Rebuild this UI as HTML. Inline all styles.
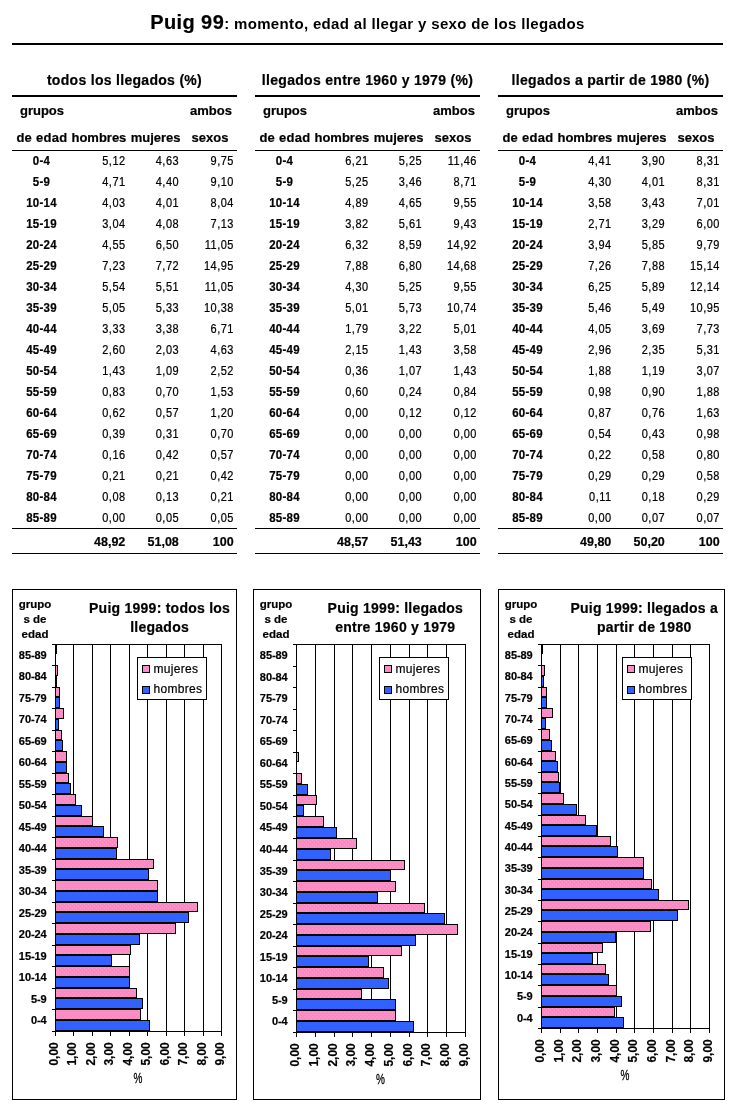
<!DOCTYPE html>
<html><head><meta charset="utf-8"><title>Puig 99</title>
<style>
html,body{margin:0;padding:0;background:#fff;}
body{width:734px;height:1117px;overflow:hidden;}
svg{display:block;will-change:transform;font-family:"Liberation Sans", sans-serif;}
text{stroke:#000;stroke-width:0.2px;}
</style></head><body>
<svg width="734" height="1117" viewBox="0 0 734 1117">
<defs>
<pattern id="pk" width="4" height="4" patternUnits="userSpaceOnUse">
<rect width="4" height="4" fill="#FF88C4"/>
<rect x="0" y="0" width="1" height="1" fill="#FF9CCE"/>
<rect x="2" y="2" width="1" height="1" fill="#FF9CCE"/>
</pattern>
</defs>
<rect width="734" height="1117" fill="#fff"/>
<text x="367.5" y="28.7" text-anchor="middle" font-weight="bold"><tspan font-size="20" letter-spacing="0.4">Puig 99</tspan><tspan font-size="15" letter-spacing="0.34" style="stroke-width:0">: momento, edad al llegar y sexo de los llegados</tspan></text>
<rect x="12.00" y="43.00" width="711.00" height="2.00" fill="#000"/>
<text x="124.50" y="84.90" font-size="14" font-weight="bold" text-anchor="middle" letter-spacing="0.3">todos los llegados (%)</text>
<rect x="12.00" y="95.00" width="225.00" height="2.00" fill="#000"/>
<text x="42.00" y="114.50" font-size="13" font-weight="bold" text-anchor="middle">grupos</text>
<text x="211.00" y="114.50" font-size="13" font-weight="bold" text-anchor="middle">ambos</text>
<text x="42.00" y="141.70" font-size="13" font-weight="bold" text-anchor="middle" letter-spacing="0.3">de edad</text>
<text x="98.90" y="141.70" font-size="13" font-weight="bold" text-anchor="middle">hombres</text>
<text x="155.60" y="141.70" font-size="13" font-weight="bold" text-anchor="middle">mujeres</text>
<text x="210.00" y="141.70" font-size="13" font-weight="bold" text-anchor="middle">sexos</text>
<rect x="12.00" y="150.00" width="225.00" height="1.00" fill="#000"/>
<text transform="translate(41.50,165.00) scale(1,1.07)" font-size="11.5" font-weight="bold" text-anchor="middle" letter-spacing="0.25">0-4</text>
<text transform="translate(125.60,165.00) scale(1,1.12)" font-size="11" text-anchor="end" letter-spacing="0.5">5,12</text>
<text transform="translate(179.10,165.00) scale(1,1.12)" font-size="11" text-anchor="end" letter-spacing="0.5">4,63</text>
<text transform="translate(233.90,165.00) scale(1,1.12)" font-size="11" text-anchor="end" letter-spacing="0.5">9,75</text>
<text transform="translate(41.50,186.00) scale(1,1.07)" font-size="11.5" font-weight="bold" text-anchor="middle" letter-spacing="0.25">5-9</text>
<text transform="translate(125.60,186.00) scale(1,1.12)" font-size="11" text-anchor="end" letter-spacing="0.5">4,71</text>
<text transform="translate(179.10,186.00) scale(1,1.12)" font-size="11" text-anchor="end" letter-spacing="0.5">4,40</text>
<text transform="translate(233.90,186.00) scale(1,1.12)" font-size="11" text-anchor="end" letter-spacing="0.5">9,10</text>
<text transform="translate(41.50,207.00) scale(1,1.07)" font-size="11.5" font-weight="bold" text-anchor="middle" letter-spacing="0.25">10-14</text>
<text transform="translate(125.60,207.00) scale(1,1.12)" font-size="11" text-anchor="end" letter-spacing="0.5">4,03</text>
<text transform="translate(179.10,207.00) scale(1,1.12)" font-size="11" text-anchor="end" letter-spacing="0.5">4,01</text>
<text transform="translate(233.90,207.00) scale(1,1.12)" font-size="11" text-anchor="end" letter-spacing="0.5">8,04</text>
<text transform="translate(41.50,228.00) scale(1,1.07)" font-size="11.5" font-weight="bold" text-anchor="middle" letter-spacing="0.25">15-19</text>
<text transform="translate(125.60,228.00) scale(1,1.12)" font-size="11" text-anchor="end" letter-spacing="0.5">3,04</text>
<text transform="translate(179.10,228.00) scale(1,1.12)" font-size="11" text-anchor="end" letter-spacing="0.5">4,08</text>
<text transform="translate(233.90,228.00) scale(1,1.12)" font-size="11" text-anchor="end" letter-spacing="0.5">7,13</text>
<text transform="translate(41.50,249.00) scale(1,1.07)" font-size="11.5" font-weight="bold" text-anchor="middle" letter-spacing="0.25">20-24</text>
<text transform="translate(125.60,249.00) scale(1,1.12)" font-size="11" text-anchor="end" letter-spacing="0.5">4,55</text>
<text transform="translate(179.10,249.00) scale(1,1.12)" font-size="11" text-anchor="end" letter-spacing="0.5">6,50</text>
<text transform="translate(233.90,249.00) scale(1,1.12)" font-size="11" text-anchor="end" letter-spacing="0.5">11,05</text>
<text transform="translate(41.50,270.00) scale(1,1.07)" font-size="11.5" font-weight="bold" text-anchor="middle" letter-spacing="0.25">25-29</text>
<text transform="translate(125.60,270.00) scale(1,1.12)" font-size="11" text-anchor="end" letter-spacing="0.5">7,23</text>
<text transform="translate(179.10,270.00) scale(1,1.12)" font-size="11" text-anchor="end" letter-spacing="0.5">7,72</text>
<text transform="translate(233.90,270.00) scale(1,1.12)" font-size="11" text-anchor="end" letter-spacing="0.5">14,95</text>
<text transform="translate(41.50,291.00) scale(1,1.07)" font-size="11.5" font-weight="bold" text-anchor="middle" letter-spacing="0.25">30-34</text>
<text transform="translate(125.60,291.00) scale(1,1.12)" font-size="11" text-anchor="end" letter-spacing="0.5">5,54</text>
<text transform="translate(179.10,291.00) scale(1,1.12)" font-size="11" text-anchor="end" letter-spacing="0.5">5,51</text>
<text transform="translate(233.90,291.00) scale(1,1.12)" font-size="11" text-anchor="end" letter-spacing="0.5">11,05</text>
<text transform="translate(41.50,312.00) scale(1,1.07)" font-size="11.5" font-weight="bold" text-anchor="middle" letter-spacing="0.25">35-39</text>
<text transform="translate(125.60,312.00) scale(1,1.12)" font-size="11" text-anchor="end" letter-spacing="0.5">5,05</text>
<text transform="translate(179.10,312.00) scale(1,1.12)" font-size="11" text-anchor="end" letter-spacing="0.5">5,33</text>
<text transform="translate(233.90,312.00) scale(1,1.12)" font-size="11" text-anchor="end" letter-spacing="0.5">10,38</text>
<text transform="translate(41.50,333.00) scale(1,1.07)" font-size="11.5" font-weight="bold" text-anchor="middle" letter-spacing="0.25">40-44</text>
<text transform="translate(125.60,333.00) scale(1,1.12)" font-size="11" text-anchor="end" letter-spacing="0.5">3,33</text>
<text transform="translate(179.10,333.00) scale(1,1.12)" font-size="11" text-anchor="end" letter-spacing="0.5">3,38</text>
<text transform="translate(233.90,333.00) scale(1,1.12)" font-size="11" text-anchor="end" letter-spacing="0.5">6,71</text>
<text transform="translate(41.50,354.00) scale(1,1.07)" font-size="11.5" font-weight="bold" text-anchor="middle" letter-spacing="0.25">45-49</text>
<text transform="translate(125.60,354.00) scale(1,1.12)" font-size="11" text-anchor="end" letter-spacing="0.5">2,60</text>
<text transform="translate(179.10,354.00) scale(1,1.12)" font-size="11" text-anchor="end" letter-spacing="0.5">2,03</text>
<text transform="translate(233.90,354.00) scale(1,1.12)" font-size="11" text-anchor="end" letter-spacing="0.5">4,63</text>
<text transform="translate(41.50,375.00) scale(1,1.07)" font-size="11.5" font-weight="bold" text-anchor="middle" letter-spacing="0.25">50-54</text>
<text transform="translate(125.60,375.00) scale(1,1.12)" font-size="11" text-anchor="end" letter-spacing="0.5">1,43</text>
<text transform="translate(179.10,375.00) scale(1,1.12)" font-size="11" text-anchor="end" letter-spacing="0.5">1,09</text>
<text transform="translate(233.90,375.00) scale(1,1.12)" font-size="11" text-anchor="end" letter-spacing="0.5">2,52</text>
<text transform="translate(41.50,396.00) scale(1,1.07)" font-size="11.5" font-weight="bold" text-anchor="middle" letter-spacing="0.25">55-59</text>
<text transform="translate(125.60,396.00) scale(1,1.12)" font-size="11" text-anchor="end" letter-spacing="0.5">0,83</text>
<text transform="translate(179.10,396.00) scale(1,1.12)" font-size="11" text-anchor="end" letter-spacing="0.5">0,70</text>
<text transform="translate(233.90,396.00) scale(1,1.12)" font-size="11" text-anchor="end" letter-spacing="0.5">1,53</text>
<text transform="translate(41.50,417.00) scale(1,1.07)" font-size="11.5" font-weight="bold" text-anchor="middle" letter-spacing="0.25">60-64</text>
<text transform="translate(125.60,417.00) scale(1,1.12)" font-size="11" text-anchor="end" letter-spacing="0.5">0,62</text>
<text transform="translate(179.10,417.00) scale(1,1.12)" font-size="11" text-anchor="end" letter-spacing="0.5">0,57</text>
<text transform="translate(233.90,417.00) scale(1,1.12)" font-size="11" text-anchor="end" letter-spacing="0.5">1,20</text>
<text transform="translate(41.50,438.00) scale(1,1.07)" font-size="11.5" font-weight="bold" text-anchor="middle" letter-spacing="0.25">65-69</text>
<text transform="translate(125.60,438.00) scale(1,1.12)" font-size="11" text-anchor="end" letter-spacing="0.5">0,39</text>
<text transform="translate(179.10,438.00) scale(1,1.12)" font-size="11" text-anchor="end" letter-spacing="0.5">0,31</text>
<text transform="translate(233.90,438.00) scale(1,1.12)" font-size="11" text-anchor="end" letter-spacing="0.5">0,70</text>
<text transform="translate(41.50,459.00) scale(1,1.07)" font-size="11.5" font-weight="bold" text-anchor="middle" letter-spacing="0.25">70-74</text>
<text transform="translate(125.60,459.00) scale(1,1.12)" font-size="11" text-anchor="end" letter-spacing="0.5">0,16</text>
<text transform="translate(179.10,459.00) scale(1,1.12)" font-size="11" text-anchor="end" letter-spacing="0.5">0,42</text>
<text transform="translate(233.90,459.00) scale(1,1.12)" font-size="11" text-anchor="end" letter-spacing="0.5">0,57</text>
<text transform="translate(41.50,480.00) scale(1,1.07)" font-size="11.5" font-weight="bold" text-anchor="middle" letter-spacing="0.25">75-79</text>
<text transform="translate(125.60,480.00) scale(1,1.12)" font-size="11" text-anchor="end" letter-spacing="0.5">0,21</text>
<text transform="translate(179.10,480.00) scale(1,1.12)" font-size="11" text-anchor="end" letter-spacing="0.5">0,21</text>
<text transform="translate(233.90,480.00) scale(1,1.12)" font-size="11" text-anchor="end" letter-spacing="0.5">0,42</text>
<text transform="translate(41.50,501.00) scale(1,1.07)" font-size="11.5" font-weight="bold" text-anchor="middle" letter-spacing="0.25">80-84</text>
<text transform="translate(125.60,501.00) scale(1,1.12)" font-size="11" text-anchor="end" letter-spacing="0.5">0,08</text>
<text transform="translate(179.10,501.00) scale(1,1.12)" font-size="11" text-anchor="end" letter-spacing="0.5">0,13</text>
<text transform="translate(233.90,501.00) scale(1,1.12)" font-size="11" text-anchor="end" letter-spacing="0.5">0,21</text>
<text transform="translate(41.50,522.00) scale(1,1.07)" font-size="11.5" font-weight="bold" text-anchor="middle" letter-spacing="0.25">85-89</text>
<text transform="translate(125.60,522.00) scale(1,1.12)" font-size="11" text-anchor="end" letter-spacing="0.5">0,00</text>
<text transform="translate(179.10,522.00) scale(1,1.12)" font-size="11" text-anchor="end" letter-spacing="0.5">0,05</text>
<text transform="translate(233.90,522.00) scale(1,1.12)" font-size="11" text-anchor="end" letter-spacing="0.5">0,05</text>
<rect x="12.00" y="528.00" width="225.00" height="1.00" fill="#000"/>
<text x="125.30" y="545.70" font-size="12.5" font-weight="bold" text-anchor="end">48,92</text>
<text x="178.80" y="545.70" font-size="12.5" font-weight="bold" text-anchor="end">51,08</text>
<text x="233.60" y="545.70" font-size="12.5" font-weight="bold" text-anchor="end">100</text>
<rect x="12.00" y="553.00" width="225.00" height="1.00" fill="#000"/>
<text x="367.50" y="84.90" font-size="14" font-weight="bold" text-anchor="middle" letter-spacing="0.3">llegados entre 1960 y 1979 (%)</text>
<rect x="255.00" y="95.00" width="225.00" height="2.00" fill="#000"/>
<text x="285.00" y="114.50" font-size="13" font-weight="bold" text-anchor="middle">grupos</text>
<text x="454.00" y="114.50" font-size="13" font-weight="bold" text-anchor="middle">ambos</text>
<text x="285.00" y="141.70" font-size="13" font-weight="bold" text-anchor="middle" letter-spacing="0.3">de edad</text>
<text x="341.90" y="141.70" font-size="13" font-weight="bold" text-anchor="middle">hombres</text>
<text x="398.60" y="141.70" font-size="13" font-weight="bold" text-anchor="middle">mujeres</text>
<text x="453.00" y="141.70" font-size="13" font-weight="bold" text-anchor="middle">sexos</text>
<rect x="255.00" y="150.00" width="225.00" height="1.00" fill="#000"/>
<text transform="translate(284.50,165.00) scale(1,1.07)" font-size="11.5" font-weight="bold" text-anchor="middle" letter-spacing="0.25">0-4</text>
<text transform="translate(368.60,165.00) scale(1,1.12)" font-size="11" text-anchor="end" letter-spacing="0.5">6,21</text>
<text transform="translate(422.10,165.00) scale(1,1.12)" font-size="11" text-anchor="end" letter-spacing="0.5">5,25</text>
<text transform="translate(476.90,165.00) scale(1,1.12)" font-size="11" text-anchor="end" letter-spacing="0.5">11,46</text>
<text transform="translate(284.50,186.00) scale(1,1.07)" font-size="11.5" font-weight="bold" text-anchor="middle" letter-spacing="0.25">5-9</text>
<text transform="translate(368.60,186.00) scale(1,1.12)" font-size="11" text-anchor="end" letter-spacing="0.5">5,25</text>
<text transform="translate(422.10,186.00) scale(1,1.12)" font-size="11" text-anchor="end" letter-spacing="0.5">3,46</text>
<text transform="translate(476.90,186.00) scale(1,1.12)" font-size="11" text-anchor="end" letter-spacing="0.5">8,71</text>
<text transform="translate(284.50,207.00) scale(1,1.07)" font-size="11.5" font-weight="bold" text-anchor="middle" letter-spacing="0.25">10-14</text>
<text transform="translate(368.60,207.00) scale(1,1.12)" font-size="11" text-anchor="end" letter-spacing="0.5">4,89</text>
<text transform="translate(422.10,207.00) scale(1,1.12)" font-size="11" text-anchor="end" letter-spacing="0.5">4,65</text>
<text transform="translate(476.90,207.00) scale(1,1.12)" font-size="11" text-anchor="end" letter-spacing="0.5">9,55</text>
<text transform="translate(284.50,228.00) scale(1,1.07)" font-size="11.5" font-weight="bold" text-anchor="middle" letter-spacing="0.25">15-19</text>
<text transform="translate(368.60,228.00) scale(1,1.12)" font-size="11" text-anchor="end" letter-spacing="0.5">3,82</text>
<text transform="translate(422.10,228.00) scale(1,1.12)" font-size="11" text-anchor="end" letter-spacing="0.5">5,61</text>
<text transform="translate(476.90,228.00) scale(1,1.12)" font-size="11" text-anchor="end" letter-spacing="0.5">9,43</text>
<text transform="translate(284.50,249.00) scale(1,1.07)" font-size="11.5" font-weight="bold" text-anchor="middle" letter-spacing="0.25">20-24</text>
<text transform="translate(368.60,249.00) scale(1,1.12)" font-size="11" text-anchor="end" letter-spacing="0.5">6,32</text>
<text transform="translate(422.10,249.00) scale(1,1.12)" font-size="11" text-anchor="end" letter-spacing="0.5">8,59</text>
<text transform="translate(476.90,249.00) scale(1,1.12)" font-size="11" text-anchor="end" letter-spacing="0.5">14,92</text>
<text transform="translate(284.50,270.00) scale(1,1.07)" font-size="11.5" font-weight="bold" text-anchor="middle" letter-spacing="0.25">25-29</text>
<text transform="translate(368.60,270.00) scale(1,1.12)" font-size="11" text-anchor="end" letter-spacing="0.5">7,88</text>
<text transform="translate(422.10,270.00) scale(1,1.12)" font-size="11" text-anchor="end" letter-spacing="0.5">6,80</text>
<text transform="translate(476.90,270.00) scale(1,1.12)" font-size="11" text-anchor="end" letter-spacing="0.5">14,68</text>
<text transform="translate(284.50,291.00) scale(1,1.07)" font-size="11.5" font-weight="bold" text-anchor="middle" letter-spacing="0.25">30-34</text>
<text transform="translate(368.60,291.00) scale(1,1.12)" font-size="11" text-anchor="end" letter-spacing="0.5">4,30</text>
<text transform="translate(422.10,291.00) scale(1,1.12)" font-size="11" text-anchor="end" letter-spacing="0.5">5,25</text>
<text transform="translate(476.90,291.00) scale(1,1.12)" font-size="11" text-anchor="end" letter-spacing="0.5">9,55</text>
<text transform="translate(284.50,312.00) scale(1,1.07)" font-size="11.5" font-weight="bold" text-anchor="middle" letter-spacing="0.25">35-39</text>
<text transform="translate(368.60,312.00) scale(1,1.12)" font-size="11" text-anchor="end" letter-spacing="0.5">5,01</text>
<text transform="translate(422.10,312.00) scale(1,1.12)" font-size="11" text-anchor="end" letter-spacing="0.5">5,73</text>
<text transform="translate(476.90,312.00) scale(1,1.12)" font-size="11" text-anchor="end" letter-spacing="0.5">10,74</text>
<text transform="translate(284.50,333.00) scale(1,1.07)" font-size="11.5" font-weight="bold" text-anchor="middle" letter-spacing="0.25">40-44</text>
<text transform="translate(368.60,333.00) scale(1,1.12)" font-size="11" text-anchor="end" letter-spacing="0.5">1,79</text>
<text transform="translate(422.10,333.00) scale(1,1.12)" font-size="11" text-anchor="end" letter-spacing="0.5">3,22</text>
<text transform="translate(476.90,333.00) scale(1,1.12)" font-size="11" text-anchor="end" letter-spacing="0.5">5,01</text>
<text transform="translate(284.50,354.00) scale(1,1.07)" font-size="11.5" font-weight="bold" text-anchor="middle" letter-spacing="0.25">45-49</text>
<text transform="translate(368.60,354.00) scale(1,1.12)" font-size="11" text-anchor="end" letter-spacing="0.5">2,15</text>
<text transform="translate(422.10,354.00) scale(1,1.12)" font-size="11" text-anchor="end" letter-spacing="0.5">1,43</text>
<text transform="translate(476.90,354.00) scale(1,1.12)" font-size="11" text-anchor="end" letter-spacing="0.5">3,58</text>
<text transform="translate(284.50,375.00) scale(1,1.07)" font-size="11.5" font-weight="bold" text-anchor="middle" letter-spacing="0.25">50-54</text>
<text transform="translate(368.60,375.00) scale(1,1.12)" font-size="11" text-anchor="end" letter-spacing="0.5">0,36</text>
<text transform="translate(422.10,375.00) scale(1,1.12)" font-size="11" text-anchor="end" letter-spacing="0.5">1,07</text>
<text transform="translate(476.90,375.00) scale(1,1.12)" font-size="11" text-anchor="end" letter-spacing="0.5">1,43</text>
<text transform="translate(284.50,396.00) scale(1,1.07)" font-size="11.5" font-weight="bold" text-anchor="middle" letter-spacing="0.25">55-59</text>
<text transform="translate(368.60,396.00) scale(1,1.12)" font-size="11" text-anchor="end" letter-spacing="0.5">0,60</text>
<text transform="translate(422.10,396.00) scale(1,1.12)" font-size="11" text-anchor="end" letter-spacing="0.5">0,24</text>
<text transform="translate(476.90,396.00) scale(1,1.12)" font-size="11" text-anchor="end" letter-spacing="0.5">0,84</text>
<text transform="translate(284.50,417.00) scale(1,1.07)" font-size="11.5" font-weight="bold" text-anchor="middle" letter-spacing="0.25">60-64</text>
<text transform="translate(368.60,417.00) scale(1,1.12)" font-size="11" text-anchor="end" letter-spacing="0.5">0,00</text>
<text transform="translate(422.10,417.00) scale(1,1.12)" font-size="11" text-anchor="end" letter-spacing="0.5">0,12</text>
<text transform="translate(476.90,417.00) scale(1,1.12)" font-size="11" text-anchor="end" letter-spacing="0.5">0,12</text>
<text transform="translate(284.50,438.00) scale(1,1.07)" font-size="11.5" font-weight="bold" text-anchor="middle" letter-spacing="0.25">65-69</text>
<text transform="translate(368.60,438.00) scale(1,1.12)" font-size="11" text-anchor="end" letter-spacing="0.5">0,00</text>
<text transform="translate(422.10,438.00) scale(1,1.12)" font-size="11" text-anchor="end" letter-spacing="0.5">0,00</text>
<text transform="translate(476.90,438.00) scale(1,1.12)" font-size="11" text-anchor="end" letter-spacing="0.5">0,00</text>
<text transform="translate(284.50,459.00) scale(1,1.07)" font-size="11.5" font-weight="bold" text-anchor="middle" letter-spacing="0.25">70-74</text>
<text transform="translate(368.60,459.00) scale(1,1.12)" font-size="11" text-anchor="end" letter-spacing="0.5">0,00</text>
<text transform="translate(422.10,459.00) scale(1,1.12)" font-size="11" text-anchor="end" letter-spacing="0.5">0,00</text>
<text transform="translate(476.90,459.00) scale(1,1.12)" font-size="11" text-anchor="end" letter-spacing="0.5">0,00</text>
<text transform="translate(284.50,480.00) scale(1,1.07)" font-size="11.5" font-weight="bold" text-anchor="middle" letter-spacing="0.25">75-79</text>
<text transform="translate(368.60,480.00) scale(1,1.12)" font-size="11" text-anchor="end" letter-spacing="0.5">0,00</text>
<text transform="translate(422.10,480.00) scale(1,1.12)" font-size="11" text-anchor="end" letter-spacing="0.5">0,00</text>
<text transform="translate(476.90,480.00) scale(1,1.12)" font-size="11" text-anchor="end" letter-spacing="0.5">0,00</text>
<text transform="translate(284.50,501.00) scale(1,1.07)" font-size="11.5" font-weight="bold" text-anchor="middle" letter-spacing="0.25">80-84</text>
<text transform="translate(368.60,501.00) scale(1,1.12)" font-size="11" text-anchor="end" letter-spacing="0.5">0,00</text>
<text transform="translate(422.10,501.00) scale(1,1.12)" font-size="11" text-anchor="end" letter-spacing="0.5">0,00</text>
<text transform="translate(476.90,501.00) scale(1,1.12)" font-size="11" text-anchor="end" letter-spacing="0.5">0,00</text>
<text transform="translate(284.50,522.00) scale(1,1.07)" font-size="11.5" font-weight="bold" text-anchor="middle" letter-spacing="0.25">85-89</text>
<text transform="translate(368.60,522.00) scale(1,1.12)" font-size="11" text-anchor="end" letter-spacing="0.5">0,00</text>
<text transform="translate(422.10,522.00) scale(1,1.12)" font-size="11" text-anchor="end" letter-spacing="0.5">0,00</text>
<text transform="translate(476.90,522.00) scale(1,1.12)" font-size="11" text-anchor="end" letter-spacing="0.5">0,00</text>
<rect x="255.00" y="528.00" width="225.00" height="1.00" fill="#000"/>
<text x="368.30" y="545.70" font-size="12.5" font-weight="bold" text-anchor="end">48,57</text>
<text x="421.80" y="545.70" font-size="12.5" font-weight="bold" text-anchor="end">51,43</text>
<text x="476.60" y="545.70" font-size="12.5" font-weight="bold" text-anchor="end">100</text>
<rect x="255.00" y="553.00" width="225.00" height="1.00" fill="#000"/>
<text x="610.50" y="84.90" font-size="14" font-weight="bold" text-anchor="middle" letter-spacing="0.3">llegados a partir de 1980 (%)</text>
<rect x="498.00" y="95.00" width="225.00" height="2.00" fill="#000"/>
<text x="528.00" y="114.50" font-size="13" font-weight="bold" text-anchor="middle">grupos</text>
<text x="697.00" y="114.50" font-size="13" font-weight="bold" text-anchor="middle">ambos</text>
<text x="528.00" y="141.70" font-size="13" font-weight="bold" text-anchor="middle" letter-spacing="0.3">de edad</text>
<text x="584.90" y="141.70" font-size="13" font-weight="bold" text-anchor="middle">hombres</text>
<text x="641.60" y="141.70" font-size="13" font-weight="bold" text-anchor="middle">mujeres</text>
<text x="696.00" y="141.70" font-size="13" font-weight="bold" text-anchor="middle">sexos</text>
<rect x="498.00" y="150.00" width="225.00" height="1.00" fill="#000"/>
<text transform="translate(527.50,165.00) scale(1,1.07)" font-size="11.5" font-weight="bold" text-anchor="middle" letter-spacing="0.25">0-4</text>
<text transform="translate(611.60,165.00) scale(1,1.12)" font-size="11" text-anchor="end" letter-spacing="0.5">4,41</text>
<text transform="translate(665.10,165.00) scale(1,1.12)" font-size="11" text-anchor="end" letter-spacing="0.5">3,90</text>
<text transform="translate(719.90,165.00) scale(1,1.12)" font-size="11" text-anchor="end" letter-spacing="0.5">8,31</text>
<text transform="translate(527.50,186.00) scale(1,1.07)" font-size="11.5" font-weight="bold" text-anchor="middle" letter-spacing="0.25">5-9</text>
<text transform="translate(611.60,186.00) scale(1,1.12)" font-size="11" text-anchor="end" letter-spacing="0.5">4,30</text>
<text transform="translate(665.10,186.00) scale(1,1.12)" font-size="11" text-anchor="end" letter-spacing="0.5">4,01</text>
<text transform="translate(719.90,186.00) scale(1,1.12)" font-size="11" text-anchor="end" letter-spacing="0.5">8,31</text>
<text transform="translate(527.50,207.00) scale(1,1.07)" font-size="11.5" font-weight="bold" text-anchor="middle" letter-spacing="0.25">10-14</text>
<text transform="translate(611.60,207.00) scale(1,1.12)" font-size="11" text-anchor="end" letter-spacing="0.5">3,58</text>
<text transform="translate(665.10,207.00) scale(1,1.12)" font-size="11" text-anchor="end" letter-spacing="0.5">3,43</text>
<text transform="translate(719.90,207.00) scale(1,1.12)" font-size="11" text-anchor="end" letter-spacing="0.5">7,01</text>
<text transform="translate(527.50,228.00) scale(1,1.07)" font-size="11.5" font-weight="bold" text-anchor="middle" letter-spacing="0.25">15-19</text>
<text transform="translate(611.60,228.00) scale(1,1.12)" font-size="11" text-anchor="end" letter-spacing="0.5">2,71</text>
<text transform="translate(665.10,228.00) scale(1,1.12)" font-size="11" text-anchor="end" letter-spacing="0.5">3,29</text>
<text transform="translate(719.90,228.00) scale(1,1.12)" font-size="11" text-anchor="end" letter-spacing="0.5">6,00</text>
<text transform="translate(527.50,249.00) scale(1,1.07)" font-size="11.5" font-weight="bold" text-anchor="middle" letter-spacing="0.25">20-24</text>
<text transform="translate(611.60,249.00) scale(1,1.12)" font-size="11" text-anchor="end" letter-spacing="0.5">3,94</text>
<text transform="translate(665.10,249.00) scale(1,1.12)" font-size="11" text-anchor="end" letter-spacing="0.5">5,85</text>
<text transform="translate(719.90,249.00) scale(1,1.12)" font-size="11" text-anchor="end" letter-spacing="0.5">9,79</text>
<text transform="translate(527.50,270.00) scale(1,1.07)" font-size="11.5" font-weight="bold" text-anchor="middle" letter-spacing="0.25">25-29</text>
<text transform="translate(611.60,270.00) scale(1,1.12)" font-size="11" text-anchor="end" letter-spacing="0.5">7,26</text>
<text transform="translate(665.10,270.00) scale(1,1.12)" font-size="11" text-anchor="end" letter-spacing="0.5">7,88</text>
<text transform="translate(719.90,270.00) scale(1,1.12)" font-size="11" text-anchor="end" letter-spacing="0.5">15,14</text>
<text transform="translate(527.50,291.00) scale(1,1.07)" font-size="11.5" font-weight="bold" text-anchor="middle" letter-spacing="0.25">30-34</text>
<text transform="translate(611.60,291.00) scale(1,1.12)" font-size="11" text-anchor="end" letter-spacing="0.5">6,25</text>
<text transform="translate(665.10,291.00) scale(1,1.12)" font-size="11" text-anchor="end" letter-spacing="0.5">5,89</text>
<text transform="translate(719.90,291.00) scale(1,1.12)" font-size="11" text-anchor="end" letter-spacing="0.5">12,14</text>
<text transform="translate(527.50,312.00) scale(1,1.07)" font-size="11.5" font-weight="bold" text-anchor="middle" letter-spacing="0.25">35-39</text>
<text transform="translate(611.60,312.00) scale(1,1.12)" font-size="11" text-anchor="end" letter-spacing="0.5">5,46</text>
<text transform="translate(665.10,312.00) scale(1,1.12)" font-size="11" text-anchor="end" letter-spacing="0.5">5,49</text>
<text transform="translate(719.90,312.00) scale(1,1.12)" font-size="11" text-anchor="end" letter-spacing="0.5">10,95</text>
<text transform="translate(527.50,333.00) scale(1,1.07)" font-size="11.5" font-weight="bold" text-anchor="middle" letter-spacing="0.25">40-44</text>
<text transform="translate(611.60,333.00) scale(1,1.12)" font-size="11" text-anchor="end" letter-spacing="0.5">4,05</text>
<text transform="translate(665.10,333.00) scale(1,1.12)" font-size="11" text-anchor="end" letter-spacing="0.5">3,69</text>
<text transform="translate(719.90,333.00) scale(1,1.12)" font-size="11" text-anchor="end" letter-spacing="0.5">7,73</text>
<text transform="translate(527.50,354.00) scale(1,1.07)" font-size="11.5" font-weight="bold" text-anchor="middle" letter-spacing="0.25">45-49</text>
<text transform="translate(611.60,354.00) scale(1,1.12)" font-size="11" text-anchor="end" letter-spacing="0.5">2,96</text>
<text transform="translate(665.10,354.00) scale(1,1.12)" font-size="11" text-anchor="end" letter-spacing="0.5">2,35</text>
<text transform="translate(719.90,354.00) scale(1,1.12)" font-size="11" text-anchor="end" letter-spacing="0.5">5,31</text>
<text transform="translate(527.50,375.00) scale(1,1.07)" font-size="11.5" font-weight="bold" text-anchor="middle" letter-spacing="0.25">50-54</text>
<text transform="translate(611.60,375.00) scale(1,1.12)" font-size="11" text-anchor="end" letter-spacing="0.5">1,88</text>
<text transform="translate(665.10,375.00) scale(1,1.12)" font-size="11" text-anchor="end" letter-spacing="0.5">1,19</text>
<text transform="translate(719.90,375.00) scale(1,1.12)" font-size="11" text-anchor="end" letter-spacing="0.5">3,07</text>
<text transform="translate(527.50,396.00) scale(1,1.07)" font-size="11.5" font-weight="bold" text-anchor="middle" letter-spacing="0.25">55-59</text>
<text transform="translate(611.60,396.00) scale(1,1.12)" font-size="11" text-anchor="end" letter-spacing="0.5">0,98</text>
<text transform="translate(665.10,396.00) scale(1,1.12)" font-size="11" text-anchor="end" letter-spacing="0.5">0,90</text>
<text transform="translate(719.90,396.00) scale(1,1.12)" font-size="11" text-anchor="end" letter-spacing="0.5">1,88</text>
<text transform="translate(527.50,417.00) scale(1,1.07)" font-size="11.5" font-weight="bold" text-anchor="middle" letter-spacing="0.25">60-64</text>
<text transform="translate(611.60,417.00) scale(1,1.12)" font-size="11" text-anchor="end" letter-spacing="0.5">0,87</text>
<text transform="translate(665.10,417.00) scale(1,1.12)" font-size="11" text-anchor="end" letter-spacing="0.5">0,76</text>
<text transform="translate(719.90,417.00) scale(1,1.12)" font-size="11" text-anchor="end" letter-spacing="0.5">1,63</text>
<text transform="translate(527.50,438.00) scale(1,1.07)" font-size="11.5" font-weight="bold" text-anchor="middle" letter-spacing="0.25">65-69</text>
<text transform="translate(611.60,438.00) scale(1,1.12)" font-size="11" text-anchor="end" letter-spacing="0.5">0,54</text>
<text transform="translate(665.10,438.00) scale(1,1.12)" font-size="11" text-anchor="end" letter-spacing="0.5">0,43</text>
<text transform="translate(719.90,438.00) scale(1,1.12)" font-size="11" text-anchor="end" letter-spacing="0.5">0,98</text>
<text transform="translate(527.50,459.00) scale(1,1.07)" font-size="11.5" font-weight="bold" text-anchor="middle" letter-spacing="0.25">70-74</text>
<text transform="translate(611.60,459.00) scale(1,1.12)" font-size="11" text-anchor="end" letter-spacing="0.5">0,22</text>
<text transform="translate(665.10,459.00) scale(1,1.12)" font-size="11" text-anchor="end" letter-spacing="0.5">0,58</text>
<text transform="translate(719.90,459.00) scale(1,1.12)" font-size="11" text-anchor="end" letter-spacing="0.5">0,80</text>
<text transform="translate(527.50,480.00) scale(1,1.07)" font-size="11.5" font-weight="bold" text-anchor="middle" letter-spacing="0.25">75-79</text>
<text transform="translate(611.60,480.00) scale(1,1.12)" font-size="11" text-anchor="end" letter-spacing="0.5">0,29</text>
<text transform="translate(665.10,480.00) scale(1,1.12)" font-size="11" text-anchor="end" letter-spacing="0.5">0,29</text>
<text transform="translate(719.90,480.00) scale(1,1.12)" font-size="11" text-anchor="end" letter-spacing="0.5">0,58</text>
<text transform="translate(527.50,501.00) scale(1,1.07)" font-size="11.5" font-weight="bold" text-anchor="middle" letter-spacing="0.25">80-84</text>
<text transform="translate(611.60,501.00) scale(1,1.12)" font-size="11" text-anchor="end" letter-spacing="0.5">0,11</text>
<text transform="translate(665.10,501.00) scale(1,1.12)" font-size="11" text-anchor="end" letter-spacing="0.5">0,18</text>
<text transform="translate(719.90,501.00) scale(1,1.12)" font-size="11" text-anchor="end" letter-spacing="0.5">0,29</text>
<text transform="translate(527.50,522.00) scale(1,1.07)" font-size="11.5" font-weight="bold" text-anchor="middle" letter-spacing="0.25">85-89</text>
<text transform="translate(611.60,522.00) scale(1,1.12)" font-size="11" text-anchor="end" letter-spacing="0.5">0,00</text>
<text transform="translate(665.10,522.00) scale(1,1.12)" font-size="11" text-anchor="end" letter-spacing="0.5">0,07</text>
<text transform="translate(719.90,522.00) scale(1,1.12)" font-size="11" text-anchor="end" letter-spacing="0.5">0,07</text>
<rect x="498.00" y="528.00" width="225.00" height="1.00" fill="#000"/>
<text x="611.30" y="545.70" font-size="12.5" font-weight="bold" text-anchor="end">49,80</text>
<text x="664.80" y="545.70" font-size="12.5" font-weight="bold" text-anchor="end">50,20</text>
<text x="719.60" y="545.70" font-size="12.5" font-weight="bold" text-anchor="end">100</text>
<rect x="498.00" y="553.00" width="225.00" height="1.00" fill="#000"/>
<rect x="12" y="589" width="225" height="511" fill="#000"/>
<rect x="13" y="590" width="223" height="509" fill="#fff"/>
<text x="35.00" y="608.10" font-size="11.5" font-weight="bold" text-anchor="middle">grupo</text>
<text x="35.00" y="622.90" font-size="11.5" font-weight="bold" text-anchor="middle">s de</text>
<text x="35.00" y="637.60" font-size="11.5" font-weight="bold" text-anchor="middle">edad</text>
<text x="159.60" y="612.90" font-size="14" font-weight="bold" text-anchor="middle" letter-spacing="0.25">Puig 1999: todos los</text>
<text x="159.60" y="632.00" font-size="14" font-weight="bold" text-anchor="middle" letter-spacing="0.25">llegados</text>
<rect x="73" y="644" width="1" height="388" fill="#000"/>
<rect x="92" y="644" width="1" height="388" fill="#000"/>
<rect x="110" y="644" width="1" height="388" fill="#000"/>
<rect x="129" y="644" width="1" height="388" fill="#000"/>
<rect x="147" y="644" width="1" height="388" fill="#000"/>
<rect x="166" y="644" width="1" height="388" fill="#000"/>
<rect x="184" y="644" width="1" height="388" fill="#000"/>
<rect x="203" y="644" width="1" height="388" fill="#000"/>
<rect x="221" y="644" width="1" height="388" fill="#000"/>
<rect x="52" y="644" width="170" height="1" fill="#000"/>
<rect x="55" y="1009" width="86" height="11" fill="#000"/>
<rect x="56" y="1010" width="84" height="9" fill="url(#pk)"/>
<rect x="55" y="1020" width="95" height="11" fill="#000"/>
<rect x="56" y="1021" width="93" height="9" fill="#3162FF"/>
<rect x="55" y="988" width="82" height="10" fill="#000"/>
<rect x="56" y="989" width="80" height="8" fill="url(#pk)"/>
<rect x="55" y="998" width="88" height="11" fill="#000"/>
<rect x="56" y="999" width="86" height="9" fill="#3162FF"/>
<rect x="55" y="966" width="75" height="11" fill="#000"/>
<rect x="56" y="967" width="73" height="9" fill="url(#pk)"/>
<rect x="55" y="977" width="75" height="11" fill="#000"/>
<rect x="56" y="978" width="73" height="9" fill="#3162FF"/>
<rect x="55" y="945" width="76" height="10" fill="#000"/>
<rect x="56" y="946" width="74" height="8" fill="url(#pk)"/>
<rect x="55" y="955" width="57" height="11" fill="#000"/>
<rect x="56" y="956" width="55" height="9" fill="#3162FF"/>
<rect x="55" y="923" width="121" height="11" fill="#000"/>
<rect x="56" y="924" width="119" height="9" fill="url(#pk)"/>
<rect x="55" y="934" width="85" height="11" fill="#000"/>
<rect x="56" y="935" width="83" height="9" fill="#3162FF"/>
<rect x="55" y="902" width="143" height="10" fill="#000"/>
<rect x="56" y="903" width="141" height="8" fill="url(#pk)"/>
<rect x="55" y="912" width="134" height="11" fill="#000"/>
<rect x="56" y="913" width="132" height="9" fill="#3162FF"/>
<rect x="55" y="880" width="103" height="11" fill="#000"/>
<rect x="56" y="881" width="101" height="9" fill="url(#pk)"/>
<rect x="55" y="891" width="103" height="11" fill="#000"/>
<rect x="56" y="892" width="101" height="9" fill="#3162FF"/>
<rect x="55" y="859" width="99" height="10" fill="#000"/>
<rect x="56" y="860" width="97" height="8" fill="url(#pk)"/>
<rect x="55" y="869" width="94" height="11" fill="#000"/>
<rect x="56" y="870" width="92" height="9" fill="#3162FF"/>
<rect x="55" y="837" width="63" height="11" fill="#000"/>
<rect x="56" y="838" width="61" height="9" fill="url(#pk)"/>
<rect x="55" y="848" width="62" height="11" fill="#000"/>
<rect x="56" y="849" width="60" height="9" fill="#3162FF"/>
<rect x="55" y="816" width="38" height="10" fill="#000"/>
<rect x="56" y="817" width="36" height="8" fill="url(#pk)"/>
<rect x="55" y="826" width="49" height="11" fill="#000"/>
<rect x="56" y="827" width="47" height="9" fill="#3162FF"/>
<rect x="55" y="794" width="21" height="11" fill="#000"/>
<rect x="56" y="795" width="19" height="9" fill="url(#pk)"/>
<rect x="55" y="805" width="27" height="11" fill="#000"/>
<rect x="56" y="806" width="25" height="9" fill="#3162FF"/>
<rect x="55" y="773" width="14" height="10" fill="#000"/>
<rect x="56" y="774" width="12" height="8" fill="url(#pk)"/>
<rect x="55" y="783" width="16" height="11" fill="#000"/>
<rect x="56" y="784" width="14" height="9" fill="#3162FF"/>
<rect x="55" y="751" width="12" height="11" fill="#000"/>
<rect x="56" y="752" width="10" height="9" fill="url(#pk)"/>
<rect x="55" y="762" width="12" height="11" fill="#000"/>
<rect x="56" y="763" width="10" height="9" fill="#3162FF"/>
<rect x="55" y="730" width="7" height="10" fill="#000"/>
<rect x="56" y="731" width="5" height="8" fill="url(#pk)"/>
<rect x="55" y="740" width="8" height="11" fill="#000"/>
<rect x="56" y="741" width="6" height="9" fill="#3162FF"/>
<rect x="55" y="708" width="9" height="11" fill="#000"/>
<rect x="56" y="709" width="7" height="9" fill="url(#pk)"/>
<rect x="55" y="719" width="4" height="11" fill="#000"/>
<rect x="56" y="720" width="2" height="9" fill="#3162FF"/>
<rect x="55" y="687" width="5" height="10" fill="#000"/>
<rect x="56" y="688" width="3" height="8" fill="url(#pk)"/>
<rect x="55" y="697" width="5" height="11" fill="#000"/>
<rect x="56" y="698" width="3" height="9" fill="#3162FF"/>
<rect x="55" y="665" width="3" height="11" fill="#000"/>
<rect x="56" y="666" width="1" height="9" fill="url(#pk)"/>
<rect x="55" y="676" width="2" height="11" fill="#000"/>
<rect x="55" y="644" width="2" height="10" fill="#000"/>
<rect x="55" y="654" width="1" height="11" fill="#000"/>
<rect x="55" y="644" width="1" height="392" fill="#000"/>
<rect x="52" y="644" width="3" height="1" fill="#000"/>
<rect x="52" y="665" width="3" height="1" fill="#000"/>
<rect x="52" y="687" width="3" height="1" fill="#000"/>
<rect x="52" y="708" width="3" height="1" fill="#000"/>
<rect x="52" y="730" width="3" height="1" fill="#000"/>
<rect x="52" y="751" width="3" height="1" fill="#000"/>
<rect x="52" y="773" width="3" height="1" fill="#000"/>
<rect x="52" y="794" width="3" height="1" fill="#000"/>
<rect x="52" y="816" width="3" height="1" fill="#000"/>
<rect x="52" y="837" width="3" height="1" fill="#000"/>
<rect x="52" y="859" width="3" height="1" fill="#000"/>
<rect x="52" y="880" width="3" height="1" fill="#000"/>
<rect x="52" y="902" width="3" height="1" fill="#000"/>
<rect x="52" y="923" width="3" height="1" fill="#000"/>
<rect x="52" y="945" width="3" height="1" fill="#000"/>
<rect x="52" y="966" width="3" height="1" fill="#000"/>
<rect x="52" y="988" width="3" height="1" fill="#000"/>
<rect x="52" y="1009" width="3" height="1" fill="#000"/>
<rect x="52" y="1031" width="3" height="1" fill="#000"/>
<rect x="52" y="1031" width="170" height="1" fill="#000"/>
<rect x="55" y="1032" width="1" height="4" fill="#000"/>
<rect x="73" y="1032" width="1" height="4" fill="#000"/>
<rect x="92" y="1032" width="1" height="4" fill="#000"/>
<rect x="110" y="1032" width="1" height="4" fill="#000"/>
<rect x="129" y="1032" width="1" height="4" fill="#000"/>
<rect x="147" y="1032" width="1" height="4" fill="#000"/>
<rect x="166" y="1032" width="1" height="4" fill="#000"/>
<rect x="184" y="1032" width="1" height="4" fill="#000"/>
<rect x="203" y="1032" width="1" height="4" fill="#000"/>
<rect x="221" y="1032" width="1" height="4" fill="#000"/>
<text x="46.50" y="1024.10" font-size="11" font-weight="bold" text-anchor="end" letter-spacing="-0.1">0-4</text>
<text x="46.50" y="1002.60" font-size="11" font-weight="bold" text-anchor="end" letter-spacing="-0.1">5-9</text>
<text x="46.50" y="981.10" font-size="11" font-weight="bold" text-anchor="end" letter-spacing="-0.1">10-14</text>
<text x="46.50" y="959.60" font-size="11" font-weight="bold" text-anchor="end" letter-spacing="-0.1">15-19</text>
<text x="46.50" y="938.10" font-size="11" font-weight="bold" text-anchor="end" letter-spacing="-0.1">20-24</text>
<text x="46.50" y="916.60" font-size="11" font-weight="bold" text-anchor="end" letter-spacing="-0.1">25-29</text>
<text x="46.50" y="895.10" font-size="11" font-weight="bold" text-anchor="end" letter-spacing="-0.1">30-34</text>
<text x="46.50" y="873.60" font-size="11" font-weight="bold" text-anchor="end" letter-spacing="-0.1">35-39</text>
<text x="46.50" y="852.10" font-size="11" font-weight="bold" text-anchor="end" letter-spacing="-0.1">40-44</text>
<text x="46.50" y="830.60" font-size="11" font-weight="bold" text-anchor="end" letter-spacing="-0.1">45-49</text>
<text x="46.50" y="809.10" font-size="11" font-weight="bold" text-anchor="end" letter-spacing="-0.1">50-54</text>
<text x="46.50" y="787.60" font-size="11" font-weight="bold" text-anchor="end" letter-spacing="-0.1">55-59</text>
<text x="46.50" y="766.10" font-size="11" font-weight="bold" text-anchor="end" letter-spacing="-0.1">60-64</text>
<text x="46.50" y="744.60" font-size="11" font-weight="bold" text-anchor="end" letter-spacing="-0.1">65-69</text>
<text x="46.50" y="723.10" font-size="11" font-weight="bold" text-anchor="end" letter-spacing="-0.1">70-74</text>
<text x="46.50" y="701.60" font-size="11" font-weight="bold" text-anchor="end" letter-spacing="-0.1">75-79</text>
<text x="46.50" y="680.10" font-size="11" font-weight="bold" text-anchor="end" letter-spacing="-0.1">80-84</text>
<text x="46.50" y="658.60" font-size="11" font-weight="bold" text-anchor="end" letter-spacing="-0.1">85-89</text>
<text transform="translate(58.30,1065.60) rotate(-90)" font-size="12" font-weight="bold">0,00</text>
<text transform="translate(76.30,1065.60) rotate(-90)" font-size="12" font-weight="bold">1,00</text>
<text transform="translate(95.30,1065.60) rotate(-90)" font-size="12" font-weight="bold">2,00</text>
<text transform="translate(113.30,1065.60) rotate(-90)" font-size="12" font-weight="bold">3,00</text>
<text transform="translate(132.30,1065.60) rotate(-90)" font-size="12" font-weight="bold">4,00</text>
<text transform="translate(150.30,1065.60) rotate(-90)" font-size="12" font-weight="bold">5,00</text>
<text transform="translate(169.30,1065.60) rotate(-90)" font-size="12" font-weight="bold">6,00</text>
<text transform="translate(187.30,1065.60) rotate(-90)" font-size="12" font-weight="bold">7,00</text>
<text transform="translate(206.30,1065.60) rotate(-90)" font-size="12" font-weight="bold">8,00</text>
<text transform="translate(224.30,1065.60) rotate(-90)" font-size="12" font-weight="bold">9,00</text>
<text transform="translate(138.00,1082.50) scale(1,1.38)" font-size="10" text-anchor="middle">%</text>
<rect x="137" y="657" width="70" height="43" fill="#000"/>
<rect x="138" y="658" width="68" height="41" fill="#fff"/>
<rect x="142" y="665" width="8" height="8" fill="#000"/>
<rect x="143" y="666" width="6" height="6" fill="url(#pk)"/>
<rect x="142" y="686" width="8" height="8" fill="#000"/>
<rect x="143" y="687" width="6" height="6" fill="#3162FF"/>
<text transform="translate(153.50,672.70) scale(1,1.08)" font-size="12" letter-spacing="0.3">mujeres</text>
<text transform="translate(153.50,693.40) scale(1,1.08)" font-size="12" letter-spacing="0.3">hombres</text>
<rect x="253" y="589" width="228" height="511" fill="#000"/>
<rect x="254" y="590" width="226" height="509" fill="#fff"/>
<text x="276.00" y="608.10" font-size="11.5" font-weight="bold" text-anchor="middle">grupo</text>
<text x="276.00" y="622.90" font-size="11.5" font-weight="bold" text-anchor="middle">s de</text>
<text x="276.00" y="637.60" font-size="11.5" font-weight="bold" text-anchor="middle">edad</text>
<text x="395.30" y="612.90" font-size="14" font-weight="bold" text-anchor="middle" letter-spacing="0.25">Puig 1999: llegados</text>
<text x="395.30" y="632.00" font-size="14" font-weight="bold" text-anchor="middle" letter-spacing="0.25">entre 1960 y 1979</text>
<rect x="315" y="644" width="1" height="389" fill="#000"/>
<rect x="334" y="644" width="1" height="389" fill="#000"/>
<rect x="352" y="644" width="1" height="389" fill="#000"/>
<rect x="371" y="644" width="1" height="389" fill="#000"/>
<rect x="390" y="644" width="1" height="389" fill="#000"/>
<rect x="409" y="644" width="1" height="389" fill="#000"/>
<rect x="427" y="644" width="1" height="389" fill="#000"/>
<rect x="446" y="644" width="1" height="389" fill="#000"/>
<rect x="465" y="644" width="1" height="389" fill="#000"/>
<rect x="293" y="644" width="173" height="1" fill="#000"/>
<rect x="296" y="1010" width="100" height="11" fill="#000"/>
<rect x="297" y="1011" width="98" height="9" fill="url(#pk)"/>
<rect x="296" y="1021" width="118" height="11" fill="#000"/>
<rect x="297" y="1022" width="116" height="9" fill="#3162FF"/>
<rect x="296" y="989" width="66" height="10" fill="#000"/>
<rect x="297" y="990" width="64" height="8" fill="url(#pk)"/>
<rect x="296" y="999" width="100" height="11" fill="#000"/>
<rect x="297" y="1000" width="98" height="9" fill="#3162FF"/>
<rect x="296" y="967" width="88" height="11" fill="#000"/>
<rect x="297" y="968" width="86" height="9" fill="url(#pk)"/>
<rect x="296" y="978" width="93" height="11" fill="#000"/>
<rect x="297" y="979" width="91" height="9" fill="#3162FF"/>
<rect x="296" y="946" width="106" height="10" fill="#000"/>
<rect x="297" y="947" width="104" height="8" fill="url(#pk)"/>
<rect x="296" y="956" width="73" height="11" fill="#000"/>
<rect x="297" y="957" width="71" height="9" fill="#3162FF"/>
<rect x="296" y="924" width="162" height="11" fill="#000"/>
<rect x="297" y="925" width="160" height="9" fill="url(#pk)"/>
<rect x="296" y="935" width="120" height="11" fill="#000"/>
<rect x="297" y="936" width="118" height="9" fill="#3162FF"/>
<rect x="296" y="903" width="129" height="10" fill="#000"/>
<rect x="297" y="904" width="127" height="8" fill="url(#pk)"/>
<rect x="296" y="913" width="149" height="11" fill="#000"/>
<rect x="297" y="914" width="147" height="9" fill="#3162FF"/>
<rect x="296" y="881" width="100" height="11" fill="#000"/>
<rect x="297" y="882" width="98" height="9" fill="url(#pk)"/>
<rect x="296" y="892" width="82" height="11" fill="#000"/>
<rect x="297" y="893" width="80" height="9" fill="#3162FF"/>
<rect x="296" y="860" width="109" height="10" fill="#000"/>
<rect x="297" y="861" width="107" height="8" fill="url(#pk)"/>
<rect x="296" y="870" width="95" height="11" fill="#000"/>
<rect x="297" y="871" width="93" height="9" fill="#3162FF"/>
<rect x="296" y="838" width="61" height="11" fill="#000"/>
<rect x="297" y="839" width="59" height="9" fill="url(#pk)"/>
<rect x="296" y="849" width="35" height="11" fill="#000"/>
<rect x="297" y="850" width="33" height="9" fill="#3162FF"/>
<rect x="296" y="816" width="28" height="11" fill="#000"/>
<rect x="297" y="817" width="26" height="9" fill="url(#pk)"/>
<rect x="296" y="827" width="41" height="11" fill="#000"/>
<rect x="297" y="828" width="39" height="9" fill="#3162FF"/>
<rect x="296" y="795" width="21" height="10" fill="#000"/>
<rect x="297" y="796" width="19" height="8" fill="url(#pk)"/>
<rect x="296" y="805" width="8" height="11" fill="#000"/>
<rect x="297" y="806" width="6" height="9" fill="#3162FF"/>
<rect x="296" y="773" width="6" height="11" fill="#000"/>
<rect x="297" y="774" width="4" height="9" fill="url(#pk)"/>
<rect x="296" y="784" width="12" height="11" fill="#000"/>
<rect x="297" y="785" width="10" height="9" fill="#3162FF"/>
<rect x="296" y="752" width="3" height="10" fill="#000"/>
<rect x="297" y="753" width="1" height="8" fill="url(#pk)"/>
<rect x="296" y="762" width="1" height="11" fill="#000"/>
<rect x="296" y="730" width="1" height="11" fill="#000"/>
<rect x="296" y="741" width="1" height="11" fill="#000"/>
<rect x="296" y="709" width="1" height="10" fill="#000"/>
<rect x="296" y="719" width="1" height="11" fill="#000"/>
<rect x="296" y="687" width="1" height="11" fill="#000"/>
<rect x="296" y="698" width="1" height="11" fill="#000"/>
<rect x="296" y="666" width="1" height="10" fill="#000"/>
<rect x="296" y="676" width="1" height="11" fill="#000"/>
<rect x="296" y="644" width="1" height="11" fill="#000"/>
<rect x="296" y="655" width="1" height="11" fill="#000"/>
<rect x="296" y="644" width="1" height="393" fill="#000"/>
<rect x="293" y="644" width="3" height="1" fill="#000"/>
<rect x="293" y="666" width="3" height="1" fill="#000"/>
<rect x="293" y="687" width="3" height="1" fill="#000"/>
<rect x="293" y="709" width="3" height="1" fill="#000"/>
<rect x="293" y="730" width="3" height="1" fill="#000"/>
<rect x="293" y="752" width="3" height="1" fill="#000"/>
<rect x="293" y="773" width="3" height="1" fill="#000"/>
<rect x="293" y="795" width="3" height="1" fill="#000"/>
<rect x="293" y="816" width="3" height="1" fill="#000"/>
<rect x="293" y="838" width="3" height="1" fill="#000"/>
<rect x="293" y="860" width="3" height="1" fill="#000"/>
<rect x="293" y="881" width="3" height="1" fill="#000"/>
<rect x="293" y="903" width="3" height="1" fill="#000"/>
<rect x="293" y="924" width="3" height="1" fill="#000"/>
<rect x="293" y="946" width="3" height="1" fill="#000"/>
<rect x="293" y="967" width="3" height="1" fill="#000"/>
<rect x="293" y="989" width="3" height="1" fill="#000"/>
<rect x="293" y="1010" width="3" height="1" fill="#000"/>
<rect x="293" y="1032" width="3" height="1" fill="#000"/>
<rect x="293" y="1032" width="173" height="1" fill="#000"/>
<rect x="296" y="1033" width="1" height="4" fill="#000"/>
<rect x="315" y="1033" width="1" height="4" fill="#000"/>
<rect x="334" y="1033" width="1" height="4" fill="#000"/>
<rect x="352" y="1033" width="1" height="4" fill="#000"/>
<rect x="371" y="1033" width="1" height="4" fill="#000"/>
<rect x="390" y="1033" width="1" height="4" fill="#000"/>
<rect x="409" y="1033" width="1" height="4" fill="#000"/>
<rect x="427" y="1033" width="1" height="4" fill="#000"/>
<rect x="446" y="1033" width="1" height="4" fill="#000"/>
<rect x="465" y="1033" width="1" height="4" fill="#000"/>
<text x="287.50" y="1025.10" font-size="11" font-weight="bold" text-anchor="end" letter-spacing="-0.1">0-4</text>
<text x="287.50" y="1003.60" font-size="11" font-weight="bold" text-anchor="end" letter-spacing="-0.1">5-9</text>
<text x="287.50" y="982.10" font-size="11" font-weight="bold" text-anchor="end" letter-spacing="-0.1">10-14</text>
<text x="287.50" y="960.60" font-size="11" font-weight="bold" text-anchor="end" letter-spacing="-0.1">15-19</text>
<text x="287.50" y="939.10" font-size="11" font-weight="bold" text-anchor="end" letter-spacing="-0.1">20-24</text>
<text x="287.50" y="917.60" font-size="11" font-weight="bold" text-anchor="end" letter-spacing="-0.1">25-29</text>
<text x="287.50" y="896.10" font-size="11" font-weight="bold" text-anchor="end" letter-spacing="-0.1">30-34</text>
<text x="287.50" y="874.60" font-size="11" font-weight="bold" text-anchor="end" letter-spacing="-0.1">35-39</text>
<text x="287.50" y="853.10" font-size="11" font-weight="bold" text-anchor="end" letter-spacing="-0.1">40-44</text>
<text x="287.50" y="831.10" font-size="11" font-weight="bold" text-anchor="end" letter-spacing="-0.1">45-49</text>
<text x="287.50" y="809.60" font-size="11" font-weight="bold" text-anchor="end" letter-spacing="-0.1">50-54</text>
<text x="287.50" y="788.10" font-size="11" font-weight="bold" text-anchor="end" letter-spacing="-0.1">55-59</text>
<text x="287.50" y="766.60" font-size="11" font-weight="bold" text-anchor="end" letter-spacing="-0.1">60-64</text>
<text x="287.50" y="745.10" font-size="11" font-weight="bold" text-anchor="end" letter-spacing="-0.1">65-69</text>
<text x="287.50" y="723.60" font-size="11" font-weight="bold" text-anchor="end" letter-spacing="-0.1">70-74</text>
<text x="287.50" y="702.10" font-size="11" font-weight="bold" text-anchor="end" letter-spacing="-0.1">75-79</text>
<text x="287.50" y="680.60" font-size="11" font-weight="bold" text-anchor="end" letter-spacing="-0.1">80-84</text>
<text x="287.50" y="659.10" font-size="11" font-weight="bold" text-anchor="end" letter-spacing="-0.1">85-89</text>
<text transform="translate(299.30,1066.60) rotate(-90)" font-size="12" font-weight="bold">0,00</text>
<text transform="translate(318.30,1066.60) rotate(-90)" font-size="12" font-weight="bold">1,00</text>
<text transform="translate(337.30,1066.60) rotate(-90)" font-size="12" font-weight="bold">2,00</text>
<text transform="translate(355.30,1066.60) rotate(-90)" font-size="12" font-weight="bold">3,00</text>
<text transform="translate(374.30,1066.60) rotate(-90)" font-size="12" font-weight="bold">4,00</text>
<text transform="translate(393.30,1066.60) rotate(-90)" font-size="12" font-weight="bold">5,00</text>
<text transform="translate(412.30,1066.60) rotate(-90)" font-size="12" font-weight="bold">6,00</text>
<text transform="translate(430.30,1066.60) rotate(-90)" font-size="12" font-weight="bold">7,00</text>
<text transform="translate(449.30,1066.60) rotate(-90)" font-size="12" font-weight="bold">8,00</text>
<text transform="translate(468.30,1066.60) rotate(-90)" font-size="12" font-weight="bold">9,00</text>
<text transform="translate(380.50,1083.50) scale(1,1.38)" font-size="10" text-anchor="middle">%</text>
<rect x="379" y="657" width="70" height="43" fill="#000"/>
<rect x="380" y="658" width="68" height="41" fill="#fff"/>
<rect x="384" y="665" width="8" height="8" fill="#000"/>
<rect x="385" y="666" width="6" height="6" fill="url(#pk)"/>
<rect x="384" y="686" width="8" height="8" fill="#000"/>
<rect x="385" y="687" width="6" height="6" fill="#3162FF"/>
<text transform="translate(395.50,672.70) scale(1,1.08)" font-size="12" letter-spacing="0.3">mujeres</text>
<text transform="translate(395.50,693.40) scale(1,1.08)" font-size="12" letter-spacing="0.3">hombres</text>
<rect x="498" y="589" width="227" height="511" fill="#000"/>
<rect x="499" y="590" width="225" height="509" fill="#fff"/>
<text x="521.00" y="608.10" font-size="11.5" font-weight="bold" text-anchor="middle">grupo</text>
<text x="521.00" y="622.90" font-size="11.5" font-weight="bold" text-anchor="middle">s de</text>
<text x="521.00" y="637.60" font-size="11.5" font-weight="bold" text-anchor="middle">edad</text>
<text x="644.20" y="612.90" font-size="14" font-weight="bold" text-anchor="middle" letter-spacing="0.25">Puig 1999: llegados a</text>
<text x="644.20" y="632.00" font-size="14" font-weight="bold" text-anchor="middle" letter-spacing="0.25">partir de 1980</text>
<rect x="560" y="644" width="1" height="385" fill="#000"/>
<rect x="578" y="644" width="1" height="385" fill="#000"/>
<rect x="597" y="644" width="1" height="385" fill="#000"/>
<rect x="616" y="644" width="1" height="385" fill="#000"/>
<rect x="634" y="644" width="1" height="385" fill="#000"/>
<rect x="653" y="644" width="1" height="385" fill="#000"/>
<rect x="672" y="644" width="1" height="385" fill="#000"/>
<rect x="690" y="644" width="1" height="385" fill="#000"/>
<rect x="709" y="644" width="1" height="385" fill="#000"/>
<rect x="538" y="644" width="172" height="1" fill="#000"/>
<rect x="541" y="1007" width="74" height="10" fill="#000"/>
<rect x="542" y="1008" width="72" height="8" fill="url(#pk)"/>
<rect x="541" y="1017" width="83" height="11" fill="#000"/>
<rect x="542" y="1018" width="81" height="9" fill="#3162FF"/>
<rect x="541" y="985" width="76" height="11" fill="#000"/>
<rect x="542" y="986" width="74" height="9" fill="url(#pk)"/>
<rect x="541" y="996" width="81" height="11" fill="#000"/>
<rect x="542" y="997" width="79" height="9" fill="#3162FF"/>
<rect x="541" y="964" width="65" height="10" fill="#000"/>
<rect x="542" y="965" width="63" height="8" fill="url(#pk)"/>
<rect x="541" y="974" width="68" height="11" fill="#000"/>
<rect x="542" y="975" width="66" height="9" fill="#3162FF"/>
<rect x="541" y="943" width="62" height="10" fill="#000"/>
<rect x="542" y="944" width="60" height="8" fill="url(#pk)"/>
<rect x="541" y="953" width="52" height="11" fill="#000"/>
<rect x="542" y="954" width="50" height="9" fill="#3162FF"/>
<rect x="541" y="921" width="110" height="11" fill="#000"/>
<rect x="542" y="922" width="108" height="9" fill="url(#pk)"/>
<rect x="541" y="932" width="75" height="11" fill="#000"/>
<rect x="542" y="933" width="73" height="9" fill="#3162FF"/>
<rect x="541" y="900" width="148" height="10" fill="#000"/>
<rect x="542" y="901" width="146" height="8" fill="url(#pk)"/>
<rect x="541" y="910" width="137" height="11" fill="#000"/>
<rect x="542" y="911" width="135" height="9" fill="#3162FF"/>
<rect x="541" y="879" width="111" height="10" fill="#000"/>
<rect x="542" y="880" width="109" height="8" fill="url(#pk)"/>
<rect x="541" y="889" width="118" height="11" fill="#000"/>
<rect x="542" y="890" width="116" height="9" fill="#3162FF"/>
<rect x="541" y="857" width="103" height="11" fill="#000"/>
<rect x="542" y="858" width="101" height="9" fill="url(#pk)"/>
<rect x="541" y="868" width="103" height="11" fill="#000"/>
<rect x="542" y="869" width="101" height="9" fill="#3162FF"/>
<rect x="541" y="836" width="70" height="10" fill="#000"/>
<rect x="542" y="837" width="68" height="8" fill="url(#pk)"/>
<rect x="541" y="846" width="77" height="11" fill="#000"/>
<rect x="542" y="847" width="75" height="9" fill="#3162FF"/>
<rect x="541" y="815" width="45" height="10" fill="#000"/>
<rect x="542" y="816" width="43" height="8" fill="url(#pk)"/>
<rect x="541" y="825" width="56" height="11" fill="#000"/>
<rect x="542" y="826" width="54" height="9" fill="#3162FF"/>
<rect x="541" y="793" width="23" height="11" fill="#000"/>
<rect x="542" y="794" width="21" height="9" fill="url(#pk)"/>
<rect x="541" y="804" width="36" height="11" fill="#000"/>
<rect x="542" y="805" width="34" height="9" fill="#3162FF"/>
<rect x="541" y="772" width="18" height="10" fill="#000"/>
<rect x="542" y="773" width="16" height="8" fill="url(#pk)"/>
<rect x="541" y="782" width="19" height="11" fill="#000"/>
<rect x="542" y="783" width="17" height="9" fill="#3162FF"/>
<rect x="541" y="751" width="15" height="10" fill="#000"/>
<rect x="542" y="752" width="13" height="8" fill="url(#pk)"/>
<rect x="541" y="761" width="17" height="11" fill="#000"/>
<rect x="542" y="762" width="15" height="9" fill="#3162FF"/>
<rect x="541" y="729" width="9" height="11" fill="#000"/>
<rect x="542" y="730" width="7" height="9" fill="url(#pk)"/>
<rect x="541" y="740" width="11" height="11" fill="#000"/>
<rect x="542" y="741" width="9" height="9" fill="#3162FF"/>
<rect x="541" y="708" width="12" height="10" fill="#000"/>
<rect x="542" y="709" width="10" height="8" fill="url(#pk)"/>
<rect x="541" y="718" width="5" height="11" fill="#000"/>
<rect x="542" y="719" width="3" height="9" fill="#3162FF"/>
<rect x="541" y="687" width="6" height="10" fill="#000"/>
<rect x="542" y="688" width="4" height="8" fill="url(#pk)"/>
<rect x="541" y="697" width="6" height="11" fill="#000"/>
<rect x="542" y="698" width="4" height="9" fill="#3162FF"/>
<rect x="541" y="665" width="4" height="11" fill="#000"/>
<rect x="542" y="666" width="2" height="9" fill="url(#pk)"/>
<rect x="541" y="676" width="3" height="11" fill="#000"/>
<rect x="542" y="677" width="1" height="9" fill="#3162FF"/>
<rect x="541" y="644" width="2" height="10" fill="#000"/>
<rect x="541" y="654" width="1" height="11" fill="#000"/>
<rect x="541" y="644" width="1" height="389" fill="#000"/>
<rect x="538" y="644" width="3" height="1" fill="#000"/>
<rect x="538" y="665" width="3" height="1" fill="#000"/>
<rect x="538" y="687" width="3" height="1" fill="#000"/>
<rect x="538" y="708" width="3" height="1" fill="#000"/>
<rect x="538" y="729" width="3" height="1" fill="#000"/>
<rect x="538" y="751" width="3" height="1" fill="#000"/>
<rect x="538" y="772" width="3" height="1" fill="#000"/>
<rect x="538" y="793" width="3" height="1" fill="#000"/>
<rect x="538" y="815" width="3" height="1" fill="#000"/>
<rect x="538" y="836" width="3" height="1" fill="#000"/>
<rect x="538" y="857" width="3" height="1" fill="#000"/>
<rect x="538" y="879" width="3" height="1" fill="#000"/>
<rect x="538" y="900" width="3" height="1" fill="#000"/>
<rect x="538" y="921" width="3" height="1" fill="#000"/>
<rect x="538" y="943" width="3" height="1" fill="#000"/>
<rect x="538" y="964" width="3" height="1" fill="#000"/>
<rect x="538" y="985" width="3" height="1" fill="#000"/>
<rect x="538" y="1007" width="3" height="1" fill="#000"/>
<rect x="538" y="1028" width="3" height="1" fill="#000"/>
<rect x="538" y="1028" width="172" height="1" fill="#000"/>
<rect x="541" y="1029" width="1" height="4" fill="#000"/>
<rect x="560" y="1029" width="1" height="4" fill="#000"/>
<rect x="578" y="1029" width="1" height="4" fill="#000"/>
<rect x="597" y="1029" width="1" height="4" fill="#000"/>
<rect x="616" y="1029" width="1" height="4" fill="#000"/>
<rect x="634" y="1029" width="1" height="4" fill="#000"/>
<rect x="653" y="1029" width="1" height="4" fill="#000"/>
<rect x="672" y="1029" width="1" height="4" fill="#000"/>
<rect x="690" y="1029" width="1" height="4" fill="#000"/>
<rect x="709" y="1029" width="1" height="4" fill="#000"/>
<text x="532.50" y="1021.60" font-size="11" font-weight="bold" text-anchor="end" letter-spacing="-0.1">0-4</text>
<text x="532.50" y="1000.10" font-size="11" font-weight="bold" text-anchor="end" letter-spacing="-0.1">5-9</text>
<text x="532.50" y="978.60" font-size="11" font-weight="bold" text-anchor="end" letter-spacing="-0.1">10-14</text>
<text x="532.50" y="957.60" font-size="11" font-weight="bold" text-anchor="end" letter-spacing="-0.1">15-19</text>
<text x="532.50" y="936.10" font-size="11" font-weight="bold" text-anchor="end" letter-spacing="-0.1">20-24</text>
<text x="532.50" y="914.60" font-size="11" font-weight="bold" text-anchor="end" letter-spacing="-0.1">25-29</text>
<text x="532.50" y="893.60" font-size="11" font-weight="bold" text-anchor="end" letter-spacing="-0.1">30-34</text>
<text x="532.50" y="872.10" font-size="11" font-weight="bold" text-anchor="end" letter-spacing="-0.1">35-39</text>
<text x="532.50" y="850.60" font-size="11" font-weight="bold" text-anchor="end" letter-spacing="-0.1">40-44</text>
<text x="532.50" y="829.60" font-size="11" font-weight="bold" text-anchor="end" letter-spacing="-0.1">45-49</text>
<text x="532.50" y="808.10" font-size="11" font-weight="bold" text-anchor="end" letter-spacing="-0.1">50-54</text>
<text x="532.50" y="786.60" font-size="11" font-weight="bold" text-anchor="end" letter-spacing="-0.1">55-59</text>
<text x="532.50" y="765.60" font-size="11" font-weight="bold" text-anchor="end" letter-spacing="-0.1">60-64</text>
<text x="532.50" y="744.10" font-size="11" font-weight="bold" text-anchor="end" letter-spacing="-0.1">65-69</text>
<text x="532.50" y="722.60" font-size="11" font-weight="bold" text-anchor="end" letter-spacing="-0.1">70-74</text>
<text x="532.50" y="701.60" font-size="11" font-weight="bold" text-anchor="end" letter-spacing="-0.1">75-79</text>
<text x="532.50" y="680.10" font-size="11" font-weight="bold" text-anchor="end" letter-spacing="-0.1">80-84</text>
<text x="532.50" y="658.60" font-size="11" font-weight="bold" text-anchor="end" letter-spacing="-0.1">85-89</text>
<text transform="translate(544.30,1062.60) rotate(-90)" font-size="12" font-weight="bold">0,00</text>
<text transform="translate(563.30,1062.60) rotate(-90)" font-size="12" font-weight="bold">1,00</text>
<text transform="translate(581.30,1062.60) rotate(-90)" font-size="12" font-weight="bold">2,00</text>
<text transform="translate(600.30,1062.60) rotate(-90)" font-size="12" font-weight="bold">3,00</text>
<text transform="translate(619.30,1062.60) rotate(-90)" font-size="12" font-weight="bold">4,00</text>
<text transform="translate(637.30,1062.60) rotate(-90)" font-size="12" font-weight="bold">5,00</text>
<text transform="translate(656.30,1062.60) rotate(-90)" font-size="12" font-weight="bold">6,00</text>
<text transform="translate(675.30,1062.60) rotate(-90)" font-size="12" font-weight="bold">7,00</text>
<text transform="translate(693.30,1062.60) rotate(-90)" font-size="12" font-weight="bold">8,00</text>
<text transform="translate(712.30,1062.60) rotate(-90)" font-size="12" font-weight="bold">9,00</text>
<text transform="translate(625.00,1079.50) scale(1,1.38)" font-size="10" text-anchor="middle">%</text>
<rect x="622" y="657" width="70" height="43" fill="#000"/>
<rect x="623" y="658" width="68" height="41" fill="#fff"/>
<rect x="627" y="665" width="8" height="8" fill="#000"/>
<rect x="628" y="666" width="6" height="6" fill="url(#pk)"/>
<rect x="627" y="686" width="8" height="8" fill="#000"/>
<rect x="628" y="687" width="6" height="6" fill="#3162FF"/>
<text transform="translate(638.50,672.70) scale(1,1.08)" font-size="12" letter-spacing="0.3">mujeres</text>
<text transform="translate(638.50,693.40) scale(1,1.08)" font-size="12" letter-spacing="0.3">hombres</text>
</svg>
</body></html>
